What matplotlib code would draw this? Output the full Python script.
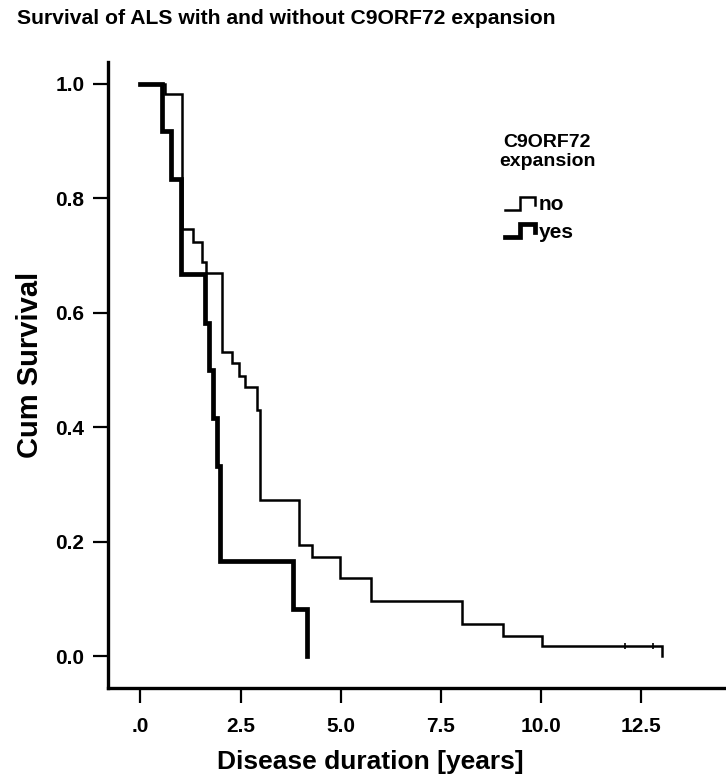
import matplotlib
matplotlib.use('Agg')
import matplotlib.pyplot as plt
from matplotlib.lines import Line2D
from matplotlib.legend_handler import HandlerBase

plt.rcParams['font.family'] = ['Liberation Sans', 'DejaVu Sans']
plt.rcParams['font.weight'] = 'bold'

# Kaplan-Meier steps (years, cumulative survival)
no_time = [0, 0.60, 1.04, 1.32, 1.53, 1.63, 2.03, 2.28, 2.47, 2.61, 2.90, 2.98,
           3.96, 4.27, 4.98, 5.74, 8.02, 9.04, 10.03, 13.02]
no_surv = [1.0, 0.982, 0.746, 0.724, 0.689, 0.670, 0.531, 0.512, 0.490, 0.470, 0.431, 0.273,
           0.194, 0.174, 0.137, 0.097, 0.057, 0.036, 0.018, 0.0]
no_censor_time = [12.1, 12.8]
no_censor_surv = [0.018, 0.018]

yes_time = [0, 0.53, 0.76, 1.0, 1.61, 1.71, 1.81, 1.90, 1.98, 3.80, 4.16]
yes_surv = [1.0, 0.917, 0.833, 0.667, 0.583, 0.5, 0.417, 0.333, 0.167, 0.083, 0.0]

xticks = [0, 2.5, 5.0, 7.5, 10.0, 12.5]
xticklabels = ['.0', '2.5', '5.0', '7.5', '10.0', '12.5']
yticks = [0.0, 0.2, 0.4, 0.6, 0.8, 1.0]
yticklabels = ['0.0', '0.2', '0.4', '0.6', '0.8', '1.0']


class StepHandler(HandlerBase):
    # legend glyph drawn as a small survival step
    def create_artists(self, legend, orig_handle, xdescent, ydescent,
                       width, height, fontsize, trans):
        xs = [0, 0.5, 0.5, 1.0, 1.0]
        ys = [0.05, 0.05, 0.95, 0.95, 0.4]
        line = Line2D([x * width - xdescent for x in xs],
                      [y * height - ydescent for y in ys],
                      color='black', lw=orig_handle.get_linewidth(),
                      solid_joinstyle='miter')
        line.set_transform(trans)
        return [line]


W, H = 726, 783
fig = plt.figure(figsize=(W / 100, H / 100), dpi=100)
ax = fig.add_axes([108 / W, 1 - 688 / H, 1 - 108 / W, (688 - 62) / H])

h_no, = ax.step(no_time, no_surv, where='post', color='black', lw=1.8,
                solid_joinstyle='miter')
ax.plot(no_censor_time, no_censor_surv, ls='none', marker='|', ms=5,
        mew=1.2, color='black')
h_yes, = ax.step(yes_time, yes_surv, where='post', color='black', lw=3.4,
                 solid_joinstyle='miter')

ax.set_xlim(-0.81, 14.61)
ax.set_ylim(-0.055, 1.038)
ax.set_xticks(xticks)
ax.set_xticklabels(xticklabels, fontsize=15, fontweight='bold')
ax.set_yticks(yticks)
ax.set_yticklabels(yticklabels, fontsize=15, fontweight='bold')
ax.tick_params(axis='both', direction='out', length=11, width=1.6)
ax.tick_params(axis='x', pad=10)
ax.tick_params(axis='y', pad=6)

for side in ['top', 'right']:
    ax.spines[side].set_visible(False)
for side in ['left', 'bottom']:
    ax.spines[side].set_linewidth(2.4)

leg = ax.legend([h_no, h_yes], ['no', 'yes'],
                handler_map={h_no: StepHandler(), h_yes: StepHandler()},
                loc='upper left', bbox_to_anchor=((495 - 108) / (W - 108), 1 - (185 - 62) / (688 - 62)),
                frameon=False, handlelength=1.4, handletextpad=0.2, labelspacing=0.4,
                borderpad=0, prop={'weight': 'bold', 'size': 15})

fig.text(547 / W, 1 - 152 / H, 'C9ORF72\nexpansion', ha='center', va='center',
         fontsize=14, fontweight='bold', linespacing=1.1)

fig.text(17 / W, 1 - 18 / H, 'Survival of ALS with and without C9ORF72 expansion',
         ha='left', va='center', fontsize=15.2, fontweight='bold')
fig.text(30 / W, 1 - 365 / H, 'Cum Survival', rotation=90, ha='center', va='center',
         fontsize=21, fontweight='bold')
fig.text(370 / W, 1 - 762 / H, 'Disease duration [years]', ha='center', va='center',
         fontsize=19, fontweight='bold')

fig.savefig('out.png', dpi=100)
